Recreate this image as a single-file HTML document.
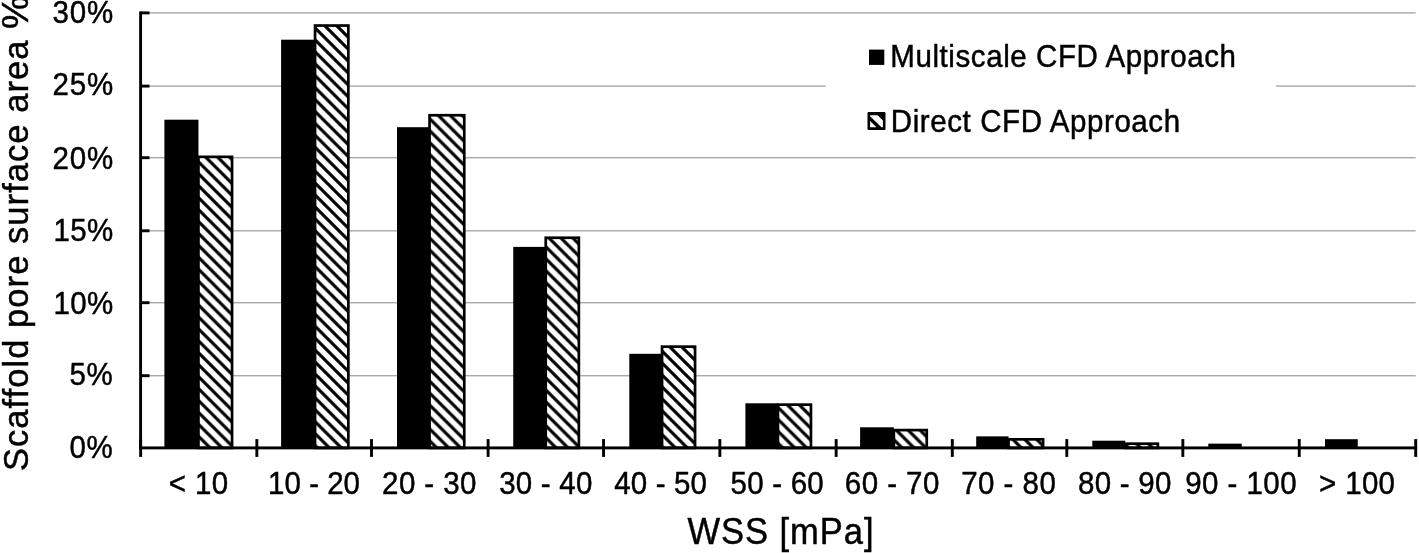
<!DOCTYPE html>
<html><head><meta charset="utf-8"><title>WSS chart</title>
<style>
html,body{margin:0;padding:0;background:#fff;}
body{width:1419px;height:553px;overflow:hidden;}
svg{display:block;filter:blur(0.55px);}
text{font-family:"Liberation Sans",Arial,Helvetica,sans-serif;fill:#000;stroke:#000;stroke-width:0.45px;}
.t{font-size:29.5px;}
.a{font-size:34.5px;}
</style></head><body>
<svg width="1419" height="553" viewBox="0 0 1419 553">
<defs>
<pattern id="h" width="11.93" height="11.93" patternUnits="userSpaceOnUse" patternTransform="translate(0,-0.83)">
<rect width="11.93" height="11.93" fill="#fff"/>
<path d="M-3,-3 L14.93,14.93 M-3,8.93 L3,14.93 M8.93,-3 L14.93,3" stroke="#000" stroke-width="3.1" fill="none"/>
</pattern>
</defs>
<rect width="1419" height="553" fill="#fff"/>

<rect x="140.6" y="375.00" width="1275.10" height="1.4" fill="#a9a9a9"/>
<rect x="140.6" y="302.00" width="1275.10" height="1.4" fill="#a9a9a9"/>
<rect x="140.6" y="230.10" width="1275.10" height="1.4" fill="#a9a9a9"/>
<rect x="140.6" y="157.00" width="1275.10" height="1.4" fill="#a9a9a9"/>
<rect x="140.6" y="85.40" width="1275.10" height="1.4" fill="#a9a9a9"/>
<rect x="140.6" y="12.20" width="1275.10" height="1.4" fill="#a9a9a9"/>
<rect x="825.7" y="30" width="450.3" height="115" fill="#fff"/>
<rect x="164.40" y="119.70" width="34.05" height="328.20" fill="#000"/>
<rect x="198.45" y="156.85" width="33.60" height="291.05" fill="url(#h)" stroke="#000" stroke-width="2.7"/>
<rect x="281.10" y="39.70" width="33.95" height="408.20" fill="#000"/>
<rect x="315.05" y="25.55" width="33.30" height="422.35" fill="url(#h)" stroke="#000" stroke-width="2.7"/>
<rect x="397.00" y="127.20" width="32.55" height="320.70" fill="#000"/>
<rect x="429.55" y="115.25" width="34.70" height="332.65" fill="url(#h)" stroke="#000" stroke-width="2.7"/>
<rect x="513.25" y="246.90" width="32.50" height="201.00" fill="#000"/>
<rect x="545.75" y="237.75" width="33.10" height="210.15" fill="url(#h)" stroke="#000" stroke-width="2.7"/>
<rect x="629.30" y="353.80" width="32.75" height="94.10" fill="#000"/>
<rect x="662.05" y="346.65" width="33.00" height="101.25" fill="url(#h)" stroke="#000" stroke-width="2.7"/>
<rect x="745.40" y="403.30" width="32.55" height="44.60" fill="#000"/>
<rect x="777.95" y="404.65" width="33.00" height="43.25" fill="url(#h)" stroke="#000" stroke-width="2.7"/>
<rect x="860.10" y="427.30" width="33.75" height="20.60" fill="#000"/>
<rect x="893.85" y="430.10" width="32.90" height="17.80" fill="url(#h)" stroke="#000" stroke-width="2.7"/>
<rect x="976.20" y="436.35" width="32.35" height="11.55" fill="#000"/>
<rect x="1008.55" y="439.35" width="34.55" height="8.55" fill="url(#h)" stroke="#000" stroke-width="2.7"/>
<rect x="1092.30" y="440.70" width="32.95" height="7.20" fill="#000"/>
<rect x="1125.25" y="443.70" width="32.60" height="4.20" fill="url(#h)" stroke="#000" stroke-width="2.7"/>
<rect x="1208.30" y="443.65" width="33.40" height="4.25" fill="#000"/>
<rect x="1325.00" y="439.20" width="32.75" height="8.70" fill="#000"/>
<rect x="139.15" y="11.45" width="2.9" height="437.90" fill="#000"/>
<rect x="139.15" y="446.45" width="1278.00" height="2.9" fill="#000"/>
<rect x="140.60" y="374.25" width="8.9" height="2.9" fill="#000"/>
<rect x="140.60" y="301.25" width="8.9" height="2.9" fill="#000"/>
<rect x="140.60" y="229.35" width="8.9" height="2.9" fill="#000"/>
<rect x="140.60" y="156.25" width="8.9" height="2.9" fill="#000"/>
<rect x="140.60" y="84.65" width="8.9" height="2.9" fill="#000"/>
<rect x="140.60" y="11.45" width="8.9" height="2.9" fill="#000"/>
<rect x="139.20" y="439.1" width="2.9" height="17.8" fill="#000"/>
<rect x="255.40" y="439.1" width="2.9" height="17.8" fill="#000"/>
<rect x="370.05" y="439.1" width="2.9" height="17.8" fill="#000"/>
<rect x="486.65" y="439.1" width="2.9" height="17.8" fill="#000"/>
<rect x="602.10" y="439.1" width="2.9" height="17.8" fill="#000"/>
<rect x="718.40" y="439.1" width="2.9" height="17.8" fill="#000"/>
<rect x="834.70" y="439.1" width="2.9" height="17.8" fill="#000"/>
<rect x="950.85" y="439.1" width="2.9" height="17.8" fill="#000"/>
<rect x="1065.35" y="439.1" width="2.9" height="17.8" fill="#000"/>
<rect x="1181.40" y="439.1" width="2.9" height="17.8" fill="#000"/>
<rect x="1297.80" y="439.1" width="2.9" height="17.8" fill="#000"/>
<rect x="1414.25" y="439.1" width="2.9" height="17.8" fill="#000"/>
<text class="t" transform="translate(69.60,458.40) scale(1,1.07)" letter-spacing="0.500">0%</text>
<text class="t" transform="translate(69.60,385.40) scale(1,1.07)" letter-spacing="0.500">5%</text>
<text class="t" transform="translate(53.50,313.50) scale(1,1.07)" letter-spacing="0.300">10%</text>
<text class="t" transform="translate(53.50,240.50) scale(1,1.07)" letter-spacing="0.300">15%</text>
<text class="t" transform="translate(52.40,168.50) scale(1,1.07)" letter-spacing="0.850">20%</text>
<text class="t" transform="translate(52.50,95.40) scale(1,1.07)" letter-spacing="0.800">25%</text>
<text class="t" transform="translate(52.50,23.40) scale(1,1.07)" letter-spacing="0.800">30%</text>
<text class="t" transform="translate(168.70,493.70) scale(1,1.07)" letter-spacing="0.433">&lt; 10</text>
<text class="t" transform="translate(268.10,493.70) scale(1,1.07)" letter-spacing="0.017">10 - 20</text>
<text class="t" transform="translate(382.10,493.70) scale(1,1.07)" letter-spacing="0.417">20 - 30</text>
<text class="t" transform="translate(499.20,493.70) scale(1,1.07)" letter-spacing="0.217">30 - 40</text>
<text class="t" transform="translate(614.20,493.70) scale(1,1.07)" letter-spacing="0.167">40 - 50</text>
<text class="t" transform="translate(730.60,493.70) scale(1,1.07)" letter-spacing="0.217">50 - 60</text>
<text class="t" transform="translate(844.80,493.70) scale(1,1.07)" letter-spacing="0.450">60 - 70</text>
<text class="t" transform="translate(961.20,493.70) scale(1,1.07)" letter-spacing="0.467">70 - 80</text>
<text class="t" transform="translate(1078.00,493.70) scale(1,1.07)" letter-spacing="0.250">80 - 90</text>
<text class="t" transform="translate(1185.20,493.70) scale(1,1.07)" letter-spacing="0.457">90 - 100</text>
<text class="t" transform="translate(1319.10,493.70) scale(1,1.07)" letter-spacing="0.325">&gt; 100</text>
<text class="a" transform="translate(687.40,543.60) scale(1,1.06)" letter-spacing="0.987">WSS [mPa]</text>
<text class="a" transform="translate(27.6,471.0) rotate(-90)" letter-spacing="1.056">Scaffold pore surface area <tspan font-size="37.5">%</tspan></text>
<rect x="869" y="49.6" width="15.3" height="15.3" fill="#000"/>
<text class="t" transform="translate(890.30,67.30) scale(1,1.06)" letter-spacing="0.591">Multiscale CFD Approach</text>
<g><rect x="867.5" y="112.0" width="18" height="17.9" rx="1" fill="#000"/><path d="M870.1,115.2 L877.7,115.2 L882.9,120.4 L882.9,127.2 L881.5,127.2 L870.1,116.3 Z M870.1,120.9 L876.4,127.2 L870.1,127.2 Z" fill="#fff"/></g>
<text class="t" transform="translate(890.80,131.60) scale(1,1.06)" letter-spacing="0.600">Direct CFD Approach</text>
</svg></body></html>
